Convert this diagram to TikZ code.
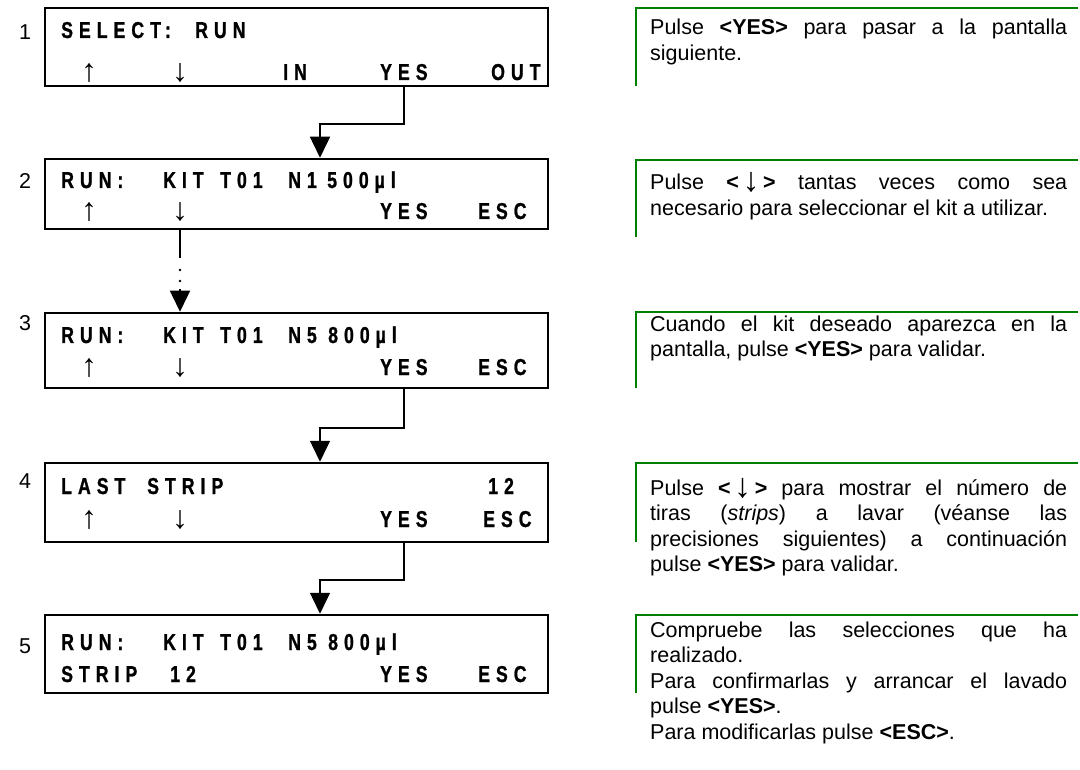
\documentclass[tikz,border=0pt]{standalone}
\usepackage{fontspec}
\setmainfont{Liberation Sans}
% condensed, letter-spaced bold face for the display screens
\newfontfamily\lcdfont{Liberation Sans}[UprightFont={* Bold}, FakeStretch=0.77, FakeBold=1, LetterSpace=26]
\usetikzlibrary{arrows.meta}
\definecolor{bracketgreen}{RGB}{0,128,0}

\newcommand\desctext[1]{\parbox[t]{417pt}{\fontsize{21.5}{25.5}\selectfont\emergencystretch=2em #1}}
% tall down arrow used inside the explanations
\newcommand\dnkey{\smash{\raisebox{-2pt}{\fontsize{34}{25.5}\selectfont ↓}}}

\begin{document}
\begin{tikzpicture}[x=1pt,y=-1pt,
  lcdbox/.style={draw=black, line width=2.5pt, minimum width=503pt, inner sep=0pt},
  lcd/.style={anchor=base west, inner sep=0pt, font=\lcdfont\fontsize{23}{23}\selectfont},
  keyglyph/.style={anchor=center, inner sep=0pt, font=\fontsize{32}{32}\selectfont},
  stepno/.style={inner sep=0pt, font=\fontsize{21.5}{24}\selectfont},
  desc/.style={anchor=base west, inner sep=0pt},
  flow/.style={line width=1.5pt, -{Triangle[width=20pt,length=21pt]}},
  plainflow/.style={line width=1.5pt},
  bracket/.style={draw=bracketgreen, line width=2.5pt}
]
\useasboundingbox (0,0) rectangle (1080,770);

% ---- display screens ----
\node[lcdbox, minimum height=78pt] (b1) at (296.5,47) {};
\node[lcdbox, minimum height=70pt] (b2) at (296.5,194) {};
\node[lcdbox, minimum height=75pt] (b3) at (296.5,350.5) {};
\node[lcdbox, minimum height=79pt] (b4) at (296.5,502.5) {};
\node[lcdbox, minimum height=78pt] (b5) at (296.5,654) {};

% ---- step numbers ----
\node[stepno] (n1) at (25,32) {1};
\node[stepno] (n2) at (25,181) {2};
\node[stepno] (n3) at (25,323) {3};
\node[stepno] (n4) at (25,481) {4};
\node[stepno] (n5) at (25,646) {5};

% ---- screen 1 ----
\node[lcd] (s1a) at (61,38) {SELECT:};
\node[lcd] (s1b) at (195,38) {RUN};
\node[keyglyph] (s1up) at (89,72.5) {↑};
\node[keyglyph] (s1dn) at (180,72.5) {↓};
\node[lcd] (s1in) at (283,80) {IN};
\node[lcd] (s1yes) at (380,80) {YES};
\node[lcd] (s1out) at (491,80) {OUT};

% ---- screen 2 ----
\node[lcd] (s2a) at (61,188) {RUN:};
\node[lcd] (s2b) at (163,188) {KIT};
\node[lcd] (s2c) at (220,188) {T01};
\node[lcd] (s2d) at (288,188) {N1};
\node[lcd] (s2e) at (327,188) {500µl};
\node[keyglyph] (s2up) at (89,211.5) {↑};
\node[keyglyph] (s2dn) at (180,211.5) {↓};
\node[lcd] (s2yes) at (380,219) {YES};
\node[lcd] (s2esc) at (478,219) {ESC};

% ---- screen 3 ----
\node[lcd] (s3a) at (61,343) {RUN:};
\node[lcd] (s3b) at (163,343) {KIT};
\node[lcd] (s3c) at (220,343) {T01};
\node[lcd] (s3d) at (288,343) {N5};
\node[lcd] (s3e) at (328,343) {800µl};
\node[keyglyph] (s3up) at (89,367.5) {↑};
\node[keyglyph] (s3dn) at (180,367.5) {↓};
\node[lcd] (s3yes) at (380,375) {YES};
\node[lcd] (s3esc) at (478,375) {ESC};

% ---- screen 4 ----
\node[lcd] (s4a) at (61,494) {LAST};
\node[lcd] (s4b) at (147,494) {STRIP};
\node[lcd] (s4c) at (488,494) {12};
\node[keyglyph] (s4up) at (89,519.5) {↑};
\node[keyglyph] (s4dn) at (180,519.5) {↓};
\node[lcd] (s4yes) at (380,527) {YES};
\node[lcd] (s4esc) at (483,527) {ESC};

% ---- screen 5 ----
\node[lcd] (s5a) at (61,650) {RUN:};
\node[lcd] (s5b) at (163,650) {KIT};
\node[lcd] (s5c) at (220,650) {T01};
\node[lcd] (s5d) at (288,650) {N5};
\node[lcd] (s5e) at (328,650) {800µl};
\node[lcd] (s5f) at (61,682) {STRIP};
\node[lcd] (s5g) at (170,682) {12};
\node[lcd] (s5yes) at (380,682) {YES};
\node[lcd] (s5esc) at (478,682) {ESC};

% ---- connectors ----
\coordinate (j1) at (404,124);  \coordinate (k1) at (320,124);
\draw[flow] (b1.south -| j1) -- (j1) -- (k1) -- (k1 |- b2.north);

\coordinate (d1) at (180,258);  \coordinate (d2) at (180,289);
\draw[plainflow] (b2.south -| d1) -- (d1);
\fill (180,270) circle (1.4pt);
\fill (180,281) circle (1.4pt);
\draw[flow] (d2) -- (d2 |- b3.north);

\coordinate (j3) at (404,428);  \coordinate (k3) at (320,428);
\draw[flow] (b3.south -| j3) -- (j3) -- (k3) -- (k3 |- b4.north);

\coordinate (j4) at (404,580);  \coordinate (k4) at (320,580);
\draw[flow] (b4.south -| j4) -- (j4) -- (k4) -- (k4 |- b5.north);

% ---- green brackets ----
\draw[bracket] (1078,8) -- (636,8) -- (636,86);
\draw[bracket] (1078,160) -- (636,160) -- (636,237);
\draw[bracket] (1078,312) -- (636,312) -- (636,388);
\draw[bracket] (1078,463) -- (636,463) -- (636,542);
\draw[bracket] (1078,615) -- (636,615) -- (636,693);

% ---- explanations ----
\node[desc] (t1) at (650,35) {\desctext{Pulse \textbf{<YES>} para pasar a la pantalla\linebreak siguiente.}};
\node[desc] (t2) at (650,190) {\desctext{Pulse \textbf{<\,\dnkey\,>} tantas veces como sea\linebreak necesario para seleccionar el kit a utilizar.}};
\node[desc] (t3) at (650,331) {\desctext{Cuando el kit deseado aparezca en la\linebreak pantalla, pulse \textbf{<YES>} para validar.}};
\node[desc] (t4) at (650,495) {\desctext{Pulse \textbf{<\,\dnkey\,>} para mostrar el número de\linebreak tiras (\textit{strips}) a lavar (véanse las\linebreak precisiones siguientes) a continuación\linebreak pulse \textbf{<YES>} para validar.}};
\node[desc] (t5) at (650,637) {\desctext{Compruebe las selecciones que ha\linebreak realizado.\par Para confirmarlas y arrancar el lavado\linebreak pulse \textbf{<YES>}.\par Para modificarlas pulse \textbf{<ESC>}.}};
\end{tikzpicture}
\end{document}
